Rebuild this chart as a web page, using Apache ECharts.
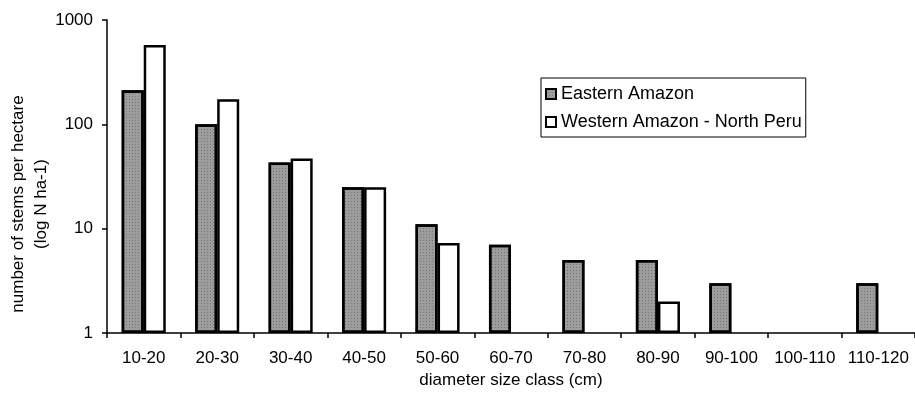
<!DOCTYPE html>
<html>
<head>
<meta charset="utf-8">
<script src="https://cdn.jsdelivr.net/npm/echarts@6/dist/echarts.min.js"></script>
<style>
  html, body { margin: 0; padding: 0; background: #fff; }
  #chart { width: 915px; height: 397px; }
</style>
</head>
<body>
<div id="chart"></div>
<script>
// Diameter size classes (cm)
const categories = ['10-20', '20-30', '30-40', '40-50', '50-60', '60-70', '70-80', '80-90', '90-100', '100-110', '110-120'];
// Stems per hectare for each class; null where no stems were recorded
const easternAmazon = [212, 100, 43, 25, 11, 7, 5, 5, 3, null, 3];
const westernAmazonNorthPeru = [575, 174, 47, 25, 7.3, null, null, 2, null, null, null];
const yTicks = [1, 10, 100, 1000];
const yTitleLines = ['number of stems per hectare', '(log N ha-1)'];

const FONT = 'Liberation Sans, Arial, sans-serif';
const AXIS_FONT_SIZE = 17;

const chart = echarts.init(document.getElementById('chart'), null, { renderer: 'canvas' });

chart.setOption({
  animation: false,
  backgroundColor: '#fff',
  textStyle: { fontFamily: FONT, color: '#000' },
  grid: { left: 107, top: 20, right: -3, bottom: 64, containLabel: false },
  graphic: [
    {
      // two-line y-axis title, set a little below the plot's middle
      type: 'text',
      x: 30,
      y: 204,
      rotation: Math.PI / 2,
      style: {
        text: yTitleLines.join('\n'),
        font: AXIS_FONT_SIZE + 'px ' + FONT,
        fill: '#000',
        align: 'center',
        verticalAlign: 'middle',
        lineHeight: 23
      }
    }
  ],
  legend: {
    orient: 'vertical',
    left: 541,
    top: 78,
    backgroundColor: '#fff',
    borderColor: '#000',
    borderWidth: 1,
    borderRadius: 0,
    padding: [7, 4, 6, 4],
    itemGap: 10,
    itemWidth: 10,
    itemHeight: 10,
    icon: 'rect',
    textStyle: { fontFamily: FONT, fontSize: 18, color: '#000' },
    data: ['Eastern Amazon', 'Western Amazon - North Peru']
  },
  xAxis: {
    type: 'category',
    data: categories,
    name: 'diameter size class (cm)',
    nameLocation: 'middle',
    nameGap: 38,
    nameTextStyle: { fontFamily: FONT, fontSize: AXIS_FONT_SIZE, color: '#000' },
    axisLine: { lineStyle: { color: '#000', width: 1.5 } },
    axisTick: { show: true, length: 5, lineStyle: { color: '#000', width: 1.5 }, alignWithLabel: false },
    axisLabel: { fontFamily: FONT, fontSize: AXIS_FONT_SIZE, color: '#000', margin: 17, interval: 0 },
    splitLine: { show: false }
  },
  yAxis: {
    type: 'log',
    logBase: 10,
    min: yTicks[0],
    max: yTicks[yTicks.length - 1],
    axisLine: { show: true, lineStyle: { color: '#000', width: 1.5 } },
    axisTick: { show: true, length: 5, lineStyle: { color: '#000', width: 1.5 } },
    axisLabel: {
      fontFamily: FONT,
      fontSize: AXIS_FONT_SIZE,
      color: '#000',
      margin: 14,
      formatter: (v) => String(Math.round(v))
    },
    splitLine: { show: false },
    minorTick: { show: false }
  },
  series: [
    {
      name: 'Eastern Amazon',
      type: 'bar',
      data: easternAmazon,
      barGap: '0%',
      barCategoryGap: '40%',
      itemStyle: {
        color: '#9d9d9d',
        borderColor: '#000',
        borderWidth: 2.5,
        decal: {
          symbol: 'rect',
          symbolSize: 1,
          color: 'rgba(50,50,50,0.35)',
          dashArrayX: [1, 2],
          dashArrayY: [1, 2],
          rotation: 0
        }
      }
    },
    {
      name: 'Western Amazon - North Peru',
      type: 'bar',
      data: westernAmazonNorthPeru,
      itemStyle: { color: '#fff', borderColor: '#000', borderWidth: 2.5 }
    }
  ]
});
</script>
</body>
</html>
